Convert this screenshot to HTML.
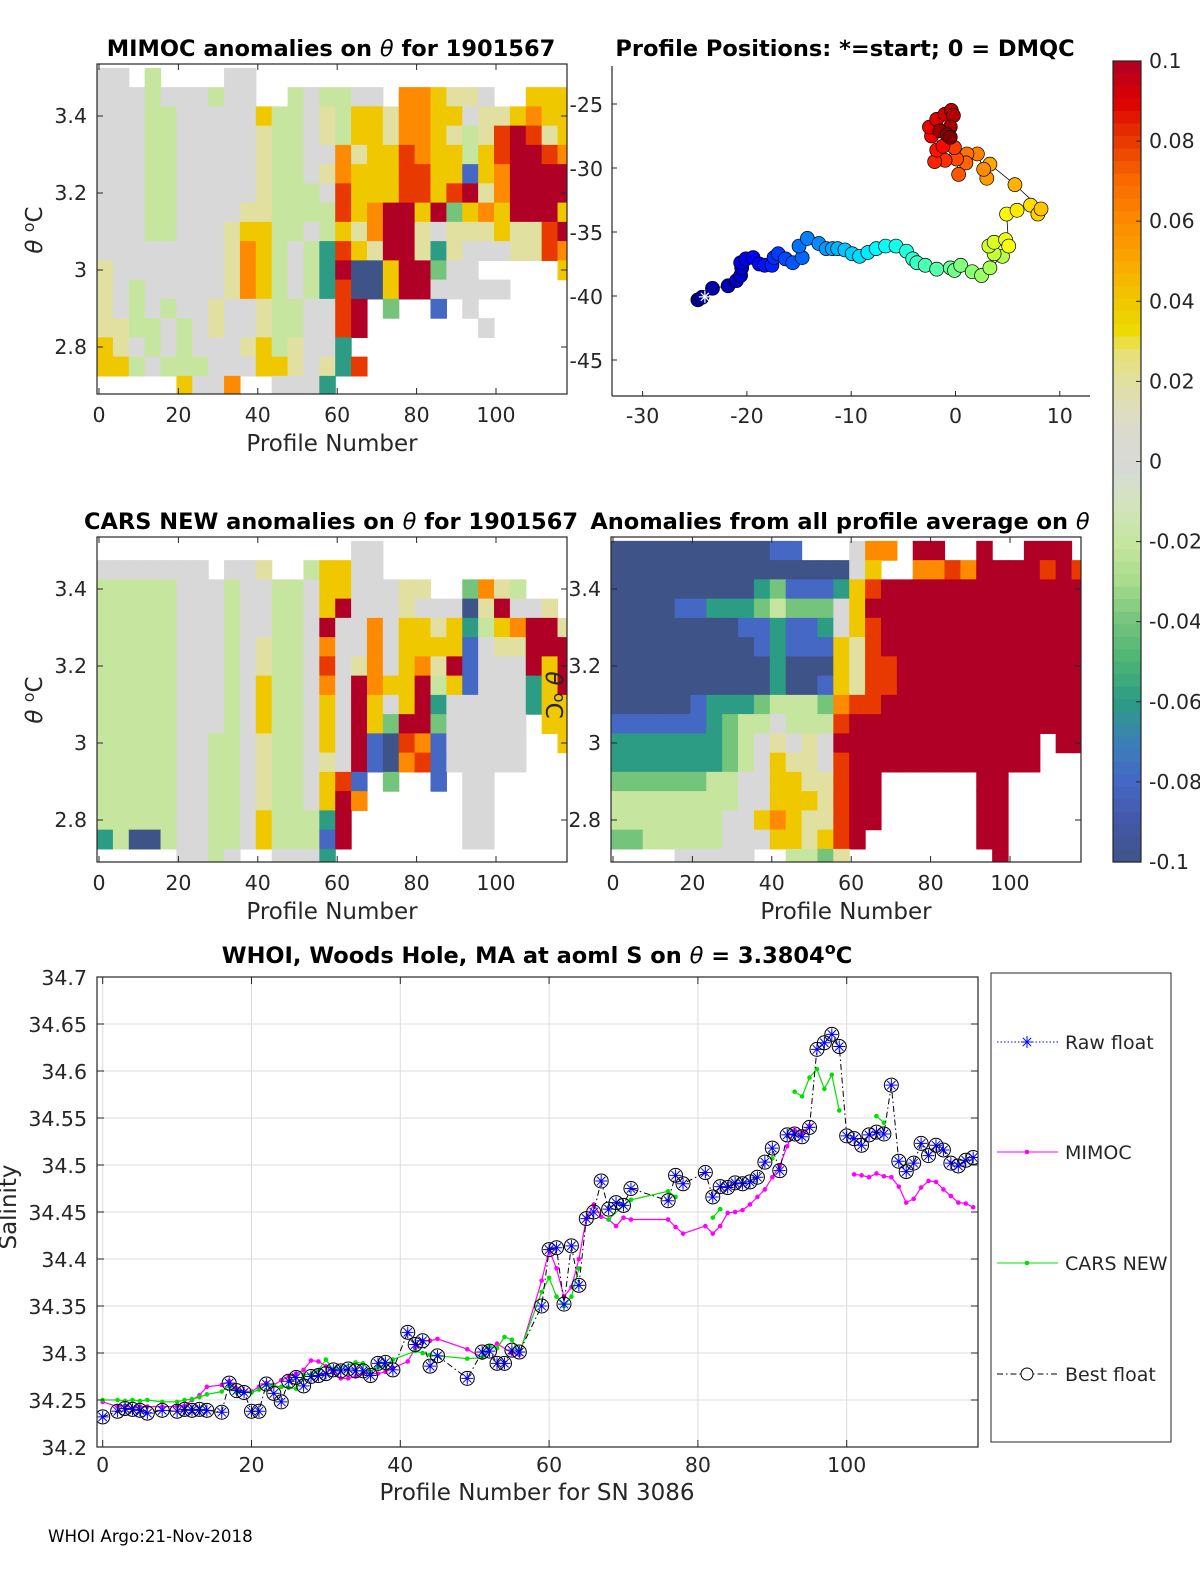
<!DOCTYPE html>
<html><head><meta charset="utf-8"><style>
html,body{margin:0;padding:0;background:#fff}
svg{display:block;font-family:"DejaVu Sans","Liberation Sans",sans-serif}
.tk{font-size:20.5px;fill:#262626}
.ttl{font-size:22.5px;font-weight:bold;fill:#000}
.lab{font-size:23px;fill:#262626}
</style></head><body>
<svg id="fig" width="1200" height="1575" viewBox="0 0 1200 1575" xmlns="http://www.w3.org/2000/svg">
<defs>
<clipPath id="c1"><rect x="97" y="64" width="470" height="330"/></clipPath>
<clipPath id="c3"><rect x="97" y="537" width="470" height="325"/></clipPath>
<clipPath id="c4"><rect x="611" y="537" width="470" height="325"/></clipPath>
<clipPath id="cb"><rect x="97" y="977" width="881" height="470"/></clipPath>
</defs>
<g id="root"></g>
</svg>
<script>
// ---- colour scale data ----
var cbVals=[-0.1,-0.09,-0.08,-0.07,-0.06,-0.05,-0.04,-0.03,-0.02,-0.01,0,0.01,0.02,0.028,0.032,0.04,0.05,0.06,0.07,0.08,0.09,0.1];
var cbCols=["#3e5488","#4458a8","#4468c4","#3c80b8","#2c9c84","#4cb474","#74c47c","#a8dc8c","#c6e6a0","#d4e4c0","#d8d8d8","#dcdcc8","#e2e0a0","#e8e070","#ecdc00","#f0c800","#f9a800","#fd8a00","#f86a00","#e83a00","#dd0000","#b00026"];
var cbTicks=[0.1,0.08,0.06,0.04,0.02,0,-0.02,-0.04,-0.06,-0.08,-0.1];
var codeLetters="abcdefghijk";
var codeVals=[-0.1,-0.08,-0.06,-0.04,-0.02,0,0.02,0.04,0.06,0.08,0.1];
// ---- heatmap data (rows: theta bands of 0.05 from 3.525 down; columns: groups of 4 profiles) ----
var mimocRows=[
"ff.e....ff....................",
"fffefffeff..efeeff.iihggf..hhh",
"fffeefffffheefgehhgiihhfgghihh",
"fffeefffffgeefgehhgiihgegjkjgh",
"fffeefffffgeeffighhjihhehjkkji",
"fffeefffffgeefgihhhjjhhbhikkkk",
"fffeefffffgeeefjhhhjjhjkgikkkk",
"fffeeffffggeeeejhikkhkdhihkkkh",
"fffeefffghheefehgikkgfggghggjk",
"ffffffffgihefecjhgkkgcgfffggji",
"gfffffffgihefeckaahkkdff.....h",
"gfefffffgihefecjaahkkfffff....",
"gfefeffgffgeeffjk.d..b.f......",
"ggeefefgffgeeffjk.......f.....",
"hgfefefffghegffc..............",
"hhefeeefffhhgfgcj.............",
".....hffi..fffc..............."];
var carsRows=[
"................ff............",
"fffffff.ffg..ehhff............",
"eeeeefffeffeefhhfffgg..dige...",
"eeeeefffeffeefhkfffgfffagkffg.",
"eeeeefffeffeefkffifhhghcehikkg",
"eeeeefffefgeefiffifhhhhbfggkkk",
"eeeeefffefgeefjfgifhigkbfffkhk",
"eeeeefffefheefifkihhkehbfffchk",
"eeeeefffefheefhfkhfhkcfffffchh",
"eeeeefffefheefhfkhdkkdfffff.hh",
"eeeeeffeefgeefhfkbajibfffff..h",
"eeeeeffeefgeefgfkbaijbfffff...",
"eeeeeffeefgeefhjb.d..b.ff.....",
"eeeeeffeefgeefhki......ff.....",
"eeeeeffeefheeeck.......ff.....",
"ceaaeffeefheeebk.......ff.....",
".....ffef..fffc..............."];
var avgRows=[
"aaaaaaaaaabb...fii.kk..k..kkk.",
"aaaaaaaaaaaaaaafh..iijikkkkjkj",
"aaaaaaaaacdbbbchjkkkkkkkkkkkkk",
"aaaabbcccdedddfhkkkkkkkkkkkkkk",
"aaaaaaaabbcbbcfhjkkkkkkkkkkkkk",
"aaaaaaaaabcbbbhgjkkkkkkkkkkkkk",
"aaaaaaaaaacaaahgjjkkkkkkkkkkkk",
"aaaaaaaaaacaabhgjjkkkkkkkkkkkk",
"aaaaabcccdeeedijjkkkkkkkkkkkkk",
"bbbbbbcdeefeeejkkkkkkkkkkkkkkk",
"cccccccdefgfgfkkkkkkkkkkkkk.kk",
"cccccccdefhggfjkkkkkkkkkkkk...",
"ddddddeeffhhggjkk......kk.....",
"eeeeeeeeffhhhgjkk......kk.....",
"eeeeeeeffhihggjkk......kk.....",
"ddeeeeefffhhghjk.......kk.....",
"....fffff..eedg.........k....."];
// ---- map data ----
var trackLon=[-24.7,-24.3,-23.3,-21.8,-21.0,-20.6,-20.5,-20.6,-20.1,-19.4,-18.8,-18.3,-17.6,-17.4,-17.0,-16.3,-15.6,-14.7,-15.0,-14.2,-13.1,-12.4,-11.8,-11.3,-10.6,-9.9,-9.2,-8.4,-7.6,-6.7,-5.7,-4.7,-4.1,-3.7,-2.9,-1.8,-0.5,-0.1,0.5,1.6,2.5,3.3,4.5,3.7,3.2,3.7,4.8,5.1,4.9,5.9,7.2,7.9,8.2,5.7,3.3,3.0,2.7,2.1,1.1,1.0,0.3,0.1,-0.1,-1.0,-2.0,-1.8,-1.2,-2.3,-2.5,-1.8,-1.0,-0.4,-0.2,-0.5,-1.5,-0.8,-0.5];
var trackLat=[-40.3,-40.1,-39.4,-39.2,-38.8,-38.4,-37.8,-37.4,-37.1,-37.0,-37.5,-37.6,-37.6,-37.0,-36.7,-37.1,-37.4,-37.0,-36.1,-35.5,-35.9,-36.3,-36.3,-36.3,-36.4,-36.7,-36.9,-36.6,-36.3,-36.1,-36.1,-36.5,-37.1,-37.4,-37.6,-37.9,-37.8,-38.0,-37.6,-38.1,-38.4,-37.8,-36.9,-36.7,-36.1,-35.8,-35.6,-36.1,-33.6,-33.3,-32.9,-33.6,-33.2,-31.3,-29.7,-30.8,-30.1,-28.9,-28.9,-29.6,-30.5,-29.3,-28.4,-29.4,-29.5,-28.6,-28.3,-27.5,-26.8,-26.2,-25.8,-25.5,-25.9,-26.8,-27.1,-27.4,-27.6];
var lonTicks=[-30,-20,-10,0,10];
var latTicks=[-25,-30,-35,-40,-45];
// ---- salinity time series data ----
var bestIdx=[0,2,3,4,5,6,8,10,11,12,13,14,16,17,18,19,20,21,22,23,24,25,26,27,28,29,30,31,32,33,34,35,36,37,38,39,41,42,43,44,45,49,51,52,53,54,55,56,59,60,61,62,63,64,65,66,67,68,69,70,71,76,77,78,81,82,83,84,85,86,87,88,89,90,91,92,93,94,95,96,97,98,99,100,101,102,103,104,105,106,107,108,109,110,111,112,113,114,115,116,117];
var bestVal=[34.232,34.238,34.241,34.240,34.239,34.236,34.239,34.238,34.240,34.239,34.240,34.239,34.237,34.268,34.260,34.258,34.238,34.238,34.267,34.257,34.248,34.270,34.274,34.265,34.275,34.276,34.278,34.282,34.281,34.283,34.281,34.281,34.276,34.289,34.290,34.282,34.322,34.309,34.313,34.286,34.297,34.273,34.301,34.302,34.289,34.289,34.303,34.301,34.350,34.410,34.412,34.352,34.414,34.372,34.443,34.450,34.483,34.453,34.460,34.457,34.475,34.462,34.489,34.480,34.492,34.466,34.477,34.476,34.481,34.480,34.482,34.487,34.503,34.518,34.494,34.532,34.533,34.530,34.540,34.623,34.630,34.639,34.626,34.531,34.528,34.521,34.532,34.535,34.533,34.585,34.504,34.493,34.502,34.523,34.510,34.521,34.516,34.502,34.499,34.505,34.508];
var mimocIdx=[0,2,3,4,5,6,8,10,11,12,13,14,16,17,18,19,20,21,22,23,24,25,26,27,28,29,30,31,32,33,34,35,36,37,38,39,41,42,43,44,45,49,51,53,55,56,59,60,61,62,63,64,65,66,67,68,69,70,71,76,77,78,81,82,83,84,85,86,87,88,89,90,91,92,93,94,95,98,101,102,103,104,105,106,107,108,109,110,111,112,113,114,115,116,117];
var mimocVal=[34.248,34.243,34.244,34.241,34.243,34.243,34.243,34.243,34.244,34.250,34.255,34.264,34.266,34.270,34.262,34.259,34.259,34.264,34.268,34.266,34.271,34.275,34.278,34.282,34.292,34.291,34.286,34.279,34.273,34.273,34.275,34.278,34.278,34.278,34.280,34.284,34.291,34.305,34.313,34.313,34.315,34.304,34.295,34.310,34.300,34.298,34.377,34.410,34.390,34.360,34.370,34.400,34.443,34.458,34.445,34.442,34.435,34.444,34.442,34.442,34.434,34.427,34.435,34.427,34.435,34.449,34.450,34.452,34.458,34.466,34.474,34.487,34.499,34.520,34.537,34.534,34.542,null,34.490,34.489,34.487,34.491,34.488,34.487,34.477,34.460,34.464,34.476,34.483,34.482,34.474,34.467,34.460,34.459,34.455];
var carsIdx=[0,2,3,4,5,6,8,10,11,12,13,14,16,17,18,19,20,21,22,23,24,25,26,27,28,29,30,31,34,35,36,37,38,39,42,43,44,45,49,51,52,53,54,55,56,59,60,61,62,63,64,66,68,70,71,76,77,79,82,83,86,90,92,93,94,95,96,97,98,99,102,104,105];
var carsVal=[34.250,34.250,34.249,34.250,34.249,34.250,34.248,34.248,34.250,34.251,34.253,34.256,34.259,34.265,34.258,34.258,34.258,34.261,34.266,34.265,34.264,34.263,34.262,34.277,34.277,34.282,34.293,34.282,34.290,34.289,34.280,34.285,34.287,34.293,34.302,34.300,34.298,34.297,34.294,34.295,34.307,34.305,34.317,34.314,34.300,34.365,34.380,34.360,34.350,34.360,34.390,null,34.442,34.457,34.463,34.472,34.466,null,34.444,34.453,null,34.507,null,34.578,34.573,34.593,34.602,34.581,34.596,34.558,null,34.552,34.545];
var salTicks=[34.2,34.25,34.3,34.35,34.4,34.45,34.5,34.55,34.6,34.65,34.7];
var profTicks=[0,20,40,60,80,100];
var legendLabels=["Raw float","MIMOC","CARS NEW","Best float"];

var NS="http://www.w3.org/2000/svg";
var root=document.getElementById('root');
function mk(tag,attrs,parent){var e=document.createElementNS(NS,tag);for(var k in attrs)e.setAttribute(k,attrs[k]);(parent||root).appendChild(e);return e;}
function txt(s,x,y,cls,anchor,parent){var t=mk('text',{x:x,y:y,'class':cls,'text-anchor':anchor||'middle'},parent);t.textContent=s;return t;}
function hex(c){return [parseInt(c.substr(1,2),16),parseInt(c.substr(3,2),16),parseInt(c.substr(5,2),16)];}
function cmap(v){
  if(v<=cbVals[0])return cbCols[0];
  for(var i=1;i<cbVals.length;i++){if(v<=cbVals[i]){var f=(v-cbVals[i-1])/(cbVals[i]-cbVals[i-1]);var a=hex(cbCols[i-1]),b=hex(cbCols[i]);return 'rgb('+[0,1,2].map(function(j){return Math.round(a[j]+(b[j]-a[j])*f);}).join(',')+')';}}
  return cbCols[cbCols.length-1];
}
function jet(t){
  var st=[[0,[0,0,143]],[0.125,[0,0,255]],[0.375,[0,255,255]],[0.625,[255,255,0]],[0.875,[255,0,0]],[1,[128,0,0]]];
  for(var i=1;i<st.length;i++){if(t<=st[i][0]){var f=(t-st[i-1][0])/(st[i][0]-st[i-1][0]);var a=st[i-1][1],b=st[i][1];return 'rgb('+[0,1,2].map(function(j){return Math.round(a[j]+(b[j]-a[j])*f);}).join(',')+')';}}
  return 'rgb(128,0,0)';
}

// ---- heatmap panel ----
function heatPanel(name,rows,x0px,bx,by,bw,bh,ty34,clip,title,titleX){
  var g=mk('g',{});
  var cg=mk('g',{'clip-path':'url(#'+clip+')'},g);
  var px=function(p){return x0px+3.97*p;};
  var py=function(th){return ty34+(3.4-th)*385;};
  rows.forEach(function(row,r){
    for(var c=0;c<30;c++){
      var ch=row.charAt(c);var k=codeLetters.indexOf(ch);if(k<0)continue;
      var x1=px(4*c-0.5),x2=px(4*c+3.5),y1=py(3.525-0.05*r),y2=py(3.475-0.05*r);
      var re=mk('rect',{x:x1,y:y1,width:x2-x1+0.6,height:y2-y1+0.6,fill:cmap(codeVals[k])},cg);
      
      
    }
  });
  mk('rect',{x:bx,y:by,width:bw,height:bh,fill:'none',stroke:'#262626','stroke-width':1.2},g);
  [3.4,3.2,3.0,2.8].forEach(function(t){var y=py(t);mk('line',{x1:bx,x2:bx+6,y1:y,y2:y,stroke:'#262626'},g);mk('line',{x1:bx+bw,x2:bx+bw-6,y1:y,y2:y,stroke:'#262626'},g);
    var lb=txt(t===3?'3':t.toFixed(1),bx-10,y+7,'tk','end',g);});
  profTicks.forEach(function(p){var x=px(p);mk('line',{x1:x,x2:x,y1:by+bh,y2:by+bh-6,stroke:'#262626'},g);mk('line',{x1:x,x2:x,y1:by,y2:by+6,stroke:'#262626'},g);
    var lb=txt(String(p),x,by+bh+28,'tk','middle',g);});
  var xl=txt('Profile Number',bx+bw/2,by+bh+57,'lab','middle',g);
  var tt=txt('',titleX,by-8,'ttl','middle',g);tt.innerHTML=title;
  return g;
}
heatPanel('mimoc-panel',mimocRows,99,97,64,470,330,116,'c1','MIMOC anomalies on <tspan font-style="italic" font-weight="normal">θ</tspan>  for 1901567',331);
heatPanel('cars-panel',carsRows,99,97,537,470,325,589,'c3','CARS NEW anomalies on <tspan font-style="italic" font-weight="normal">θ</tspan> for 1901567',331);
heatPanel('average-panel',avgRows,613,611,537,470,325,589,'c4','Anomalies from all profile average on <tspan font-style="italic" font-weight="normal">θ</tspan>',840);
// y-axis titles
var yt1=txt('',42,230,'lab','middle');yt1.setAttribute('transform','rotate(-90 42 230)');yt1.innerHTML='<tspan font-style="italic">θ</tspan> <tspan dy="-8" font-size="16">o</tspan><tspan dy="8">C</tspan>';

var yt2=txt('',42,700,'lab','middle');yt2.setAttribute('transform','rotate(-90 42 700)');yt2.innerHTML='<tspan font-style="italic">θ</tspan> <tspan dy="-8" font-size="16">o</tspan><tspan dy="8">C</tspan>';

var yt3=txt('',546,695,'lab','middle');yt3.setAttribute('transform','rotate(90 546 695)');yt3.innerHTML='<tspan font-style="italic">θ</tspan> <tspan dy="-8" font-size="16">o</tspan><tspan dy="8">C</tspan>';


// ---- map panel ----
(function(){
  var g=mk('g',{});
  var lx=function(l){return 955.5+10.43*l;};
  var ly=function(l){return 104+(-25-l)*12.8;};
  var pts=trackLon.map(function(l,i){return lx(l)+','+ly(trackLat[i]);}).join(' ');
  var pl=mk('polyline',{points:pts,fill:'none',stroke:'#000','stroke-width':0.8},g);
  
  var n=trackLon.length;
  trackLon.forEach(function(l,i){
    var c=mk('circle',{cx:lx(l),cy:ly(trackLat[i]),r:7,fill:jet(i/(n-1)),stroke:'#000','stroke-width':0.7},g);
    
    
  });
  var sx=lx(trackLon[0])+7,sy=ly(trackLat[0])-3;
  [[0,6],[6,0],[4,4],[4,-4]].forEach(function(d){mk('line',{x1:sx-d[0],y1:sy-d[1],x2:sx+d[0],y2:sy+d[1],stroke:'#fff','stroke-width':1.2},g);});
  mk('line',{x1:612,y1:66,x2:612,y2:396,stroke:'#262626','stroke-width':1.2},g);
  mk('line',{x1:612,y1:396,x2:1090,y2:396,stroke:'#262626','stroke-width':1.2},g);
  lonTicks.forEach(function(l){var x=lx(l);mk('line',{x1:x,x2:x,y1:396,y2:391,stroke:'#262626'},g);
    var lb=txt(String(l),x,423,'tk','middle',g);});
  latTicks.forEach(function(l){var y=ly(l);mk('line',{x1:612,x2:617,y1:y,y2:y,stroke:'#262626'},g);
    var lb=txt(String(l),603,y+8,'tk','end',g);});
  var tt=txt('Profile Positions: *=start; 0 = DMQC',845,56,'ttl','middle',g);
})();

// ---- colorbar ----
(function(){
  var g=mk('g',{});
  var top=61,bot=862,x=1113,w=28;
  var yv=function(v){return top+(0.1-v)/0.2*(bot-top);};
  var nb=64;
  for(var i=0;i<nb;i++){var v=0.1-(i+0.5)*0.2/nb;mk('rect',{x:x,y:top+i*(bot-top)/nb,width:w,height:(bot-top)/nb+0.6,fill:cmap(v)},g);}
  mk('rect',{x:x,y:top,width:w,height:bot-top,fill:'none',stroke:'#262626','stroke-width':1.2},g);
  cbTicks.forEach(function(v){var y=yv(v);mk('line',{x1:x+w,x2:x+w-5,y1:y,y2:y,stroke:'#262626'},g);
    var lb=txt(v===0?'0':String(v),1149,y+7,'tk','start',g);});
})();

// ---- salinity chart ----
(function(){
  var g=mk('g',{});
  var X=function(p){return 102.7+7.44*p;};
  var Y=function(s){return 1447-(s-34.2)*940;};
  var bx=97,by=977,bw=881,bh=470;
  profTicks.forEach(function(p){mk('line',{x1:X(p),x2:X(p),y1:by,y2:by+bh,stroke:'#dcdcdc'},g);});
  salTicks.forEach(function(s){mk('line',{x1:bx,x2:bx+bw,y1:Y(s),y2:Y(s),stroke:'#dcdcdc'},g);});
  var cg=mk('g',{'clip-path':'url(#cb)'},g);
  function path(idx,vals,color,dash,w){
    var d='',pen=false;
    idx.forEach(function(p,i){var v=vals[i];if(v===null){pen=false;return;}d+=(pen?'L':'M')+X(p).toFixed(1)+' '+Y(v).toFixed(1)+' ';pen=true;});
    var pa=mk('path',{d:d,fill:'none',stroke:color,'stroke-width':w||1,'stroke-dasharray':dash||'none'},cg);return pa;
  }
  var mp=path(mimocIdx,mimocVal,'#ff00ff',null,1.2);
  mimocIdx.forEach(function(p,i){if(mimocVal[i]===null)return;var c=mk('circle',{cx:X(p),cy:Y(mimocVal[i]),r:2.3,fill:'#ff00ff'},cg);});
  var cp=path(carsIdx,carsVal,'#00e000',null,1.2);
  carsIdx.forEach(function(p,i){if(carsVal[i]===null)return;var c=mk('circle',{cx:X(p),cy:Y(carsVal[i]),r:2.3,fill:'#00e000'},cg);});
  var bp=path(bestIdx,bestVal,'#000','6,3,1.5,3',1);
  bestIdx.forEach(function(p,i){
    var x=X(p),y=Y(bestVal[i]);
    var c=mk('circle',{cx:x,cy:y,r:7,fill:'none',stroke:'#000','stroke-width':1},cg);
    
    
    var s=mk('path',{d:'M'+(x-6)+' '+y+'h12M'+x+' '+(y-6)+'v12M'+(x-4.2)+' '+(y-4.2)+'l8.4 8.4M'+(x-4.2)+' '+(y+4.2)+'l8.4 -8.4',stroke:'#0000ff','stroke-width':1},cg);
    
    
  });
  mk('rect',{x:bx,y:by,width:bw,height:bh,fill:'none',stroke:'#262626','stroke-width':1.2},g);
  salTicks.forEach(function(s){var y=Y(s);mk('line',{x1:bx,x2:bx+7,y1:y,y2:y,stroke:'#262626'},g);mk('line',{x1:bx+bw,x2:bx+bw-7,y1:y,y2:y,stroke:'#262626'},g);
    var lb=txt(String(s),87,y+8,'tk','end',g);});
  profTicks.forEach(function(p){var x=X(p);mk('line',{x1:x,x2:x,y1:by+bh,y2:by+bh-7,stroke:'#262626'},g);mk('line',{x1:x,x2:x,y1:by,y2:by+7,stroke:'#262626'},g);
    var lb=txt(String(p),x,by+bh+25,'tk','middle',g);});
  var xl=txt('Profile Number for SN 3086',537,1500,'lab','middle',g);
  var yl=txt('Salinity',16,1207,'lab','middle',g);yl.setAttribute('transform','rotate(-90 16 1207)');
  var tt=txt('',537,963,'ttl','middle',g);tt.innerHTML='WHOI, Woods Hole, MA at aoml S on <tspan font-style="italic" font-weight="normal">θ</tspan> = 3.3804<tspan dy="-9" font-size="16">o</tspan><tspan dy="9">C</tspan>';
  
  // legend
  var lg=mk('g',{},g);
  mk('rect',{x:991,y:973,width:180,height:469,fill:'#fff',stroke:'#262626','stroke-width':1},lg);
  var ys=[1042,1152,1263,1374];
  legendLabels.forEach(function(lbl,i){
    var e=mk('g',{},lg);
    
    
    var y=ys[i];
    if(i===0){mk('line',{x1:997,x2:1058,y1:y,y2:y,stroke:'#0000ff','stroke-dasharray':'1.5,2'},e);mk('path',{d:'M1021 '+y+'h12M1027 '+(y-6)+'v12M1022.8 '+(y-4.2)+'l8.4 8.4M1022.8 '+(y+4.2)+'l8.4 -8.4',stroke:'#0000ff'},e);}
    if(i===1){mk('line',{x1:997,x2:1058,y1:y,y2:y,stroke:'#ff00ff'},e);mk('circle',{cx:1027,cy:y,r:2.3,fill:'#ff00ff'},e);}
    if(i===2){mk('line',{x1:997,x2:1058,y1:y,y2:y,stroke:'#00e000'},e);mk('circle',{cx:1027,cy:y,r:2.3,fill:'#00e000'},e);}
    if(i===3){mk('line',{x1:997,x2:1058,y1:y,y2:y,stroke:'#000','stroke-dasharray':'6,3,1.5,3'},e);mk('circle',{cx:1027,cy:y,r:6,fill:'#fff',stroke:'#000'},e);}
    var lt=txt(lbl,1065,y+7,'tk','start',e);lt.setAttribute('style','font-size:19px');
  });
  var ft=txt('WHOI Argo:21-Nov-2018',48,1542,'tk','start');ft.setAttribute('style','font-size:16.7px;fill:#000');
  
})();
</script>
</body></html>
